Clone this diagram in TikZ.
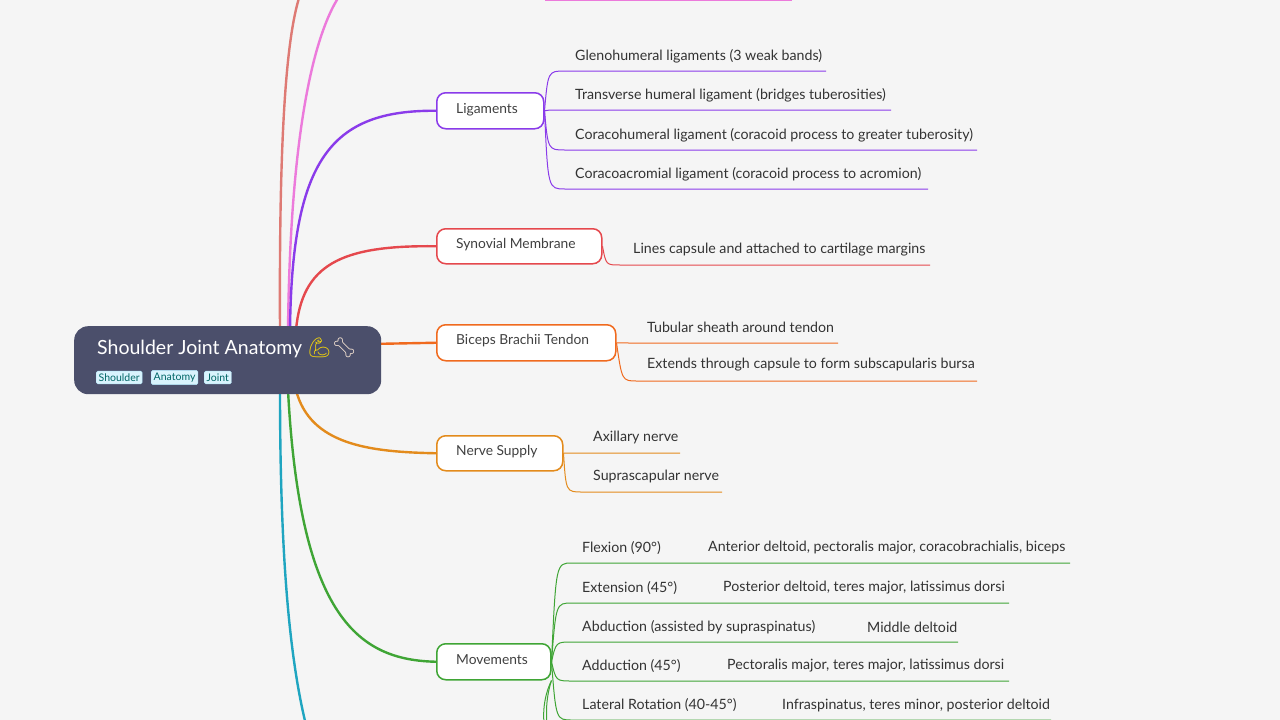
\documentclass[tikz,border=0pt]{standalone}
\usepackage{fontspec}
\setmainfont{Lato}
\newfontfamily\emo{Noto Emoji}
\definecolor{cpur}{HTML}{8A3BEA}\definecolor{cred}{HTML}{E5484D}
\definecolor{cora}{HTML}{F06A1E}\definecolor{cyel}{HTML}{E38B1C}
\definecolor{cgrn}{HTML}{3FA535}\definecolor{csal}{HTML}{DE7A74}
\definecolor{cpink}{HTML}{EC7ADB}\definecolor{cteal}{HTML}{1FA5C0}
\definecolor{croot}{HTML}{4B4F6B}
\begin{document}
\begin{tikzpicture}[x=1pt,y=-1pt,
  box/.style={draw=#1,line width=1.5pt,rounded corners=9pt,fill=white,inner sep=0pt,anchor=north west,text width=#1,font=\fontsize{13.5}{13.5}\selectfont,text=black!75},
  box/.style={draw=#1,line width=1.5pt,rounded corners=9pt,fill=white,inner sep=0pt,anchor=north west},
  blbl/.style={anchor=west,inner sep=0pt,font=\fontsize{13.8}{14}\selectfont,text=black!75},
  lbl/.style={anchor=west,inner sep=0pt,font=\fontsize{14.2}{14}\selectfont,text=black!80},
  tag/.style={fill=cyan!15,draw=cyan!30,rounded corners=1.5pt,inner xsep=2.5pt,inner ysep=2.5pt,font=\fontsize{10.5}{10.5}\selectfont,text=teal!80!black,anchor=west},
  br/.style={line width=2.4pt,line cap=round},
  ch/.style={line width=1pt}]
\useasboundingbox[fill=black!4] (0,0) rectangle (1280,720);
\clip (0,0) rectangle (1280,720);
% stems off-page
\draw[br,csal] (280,330) .. controls (279,150) and (285,40) .. (300,-5);
\draw[br,cpink] (288,330) .. controls (290,150) and (310,40) .. (340,-5);
\draw[ch,cpink] (545,0) -- (792,0);
\draw[br,cteal] (280,390) .. controls (280,560) and (290,660) .. (306,725);
% nodes
\node[box=cpur,minimum width=107pt,minimum height=36pt] (lig) at (436,92) {};
\node[box=cred,minimum width=165pt,minimum height=35pt] (syn) at (436,228) {};
\node[box=cora,minimum width=179pt,minimum height=36pt] (bic) at (436,324) {};
\node[box=cyel,minimum width=126pt,minimum height=35pt] (ner) at (436,435) {};
\node[box=cgrn,minimum width=114pt,minimum height=36pt] (mov) at (436,643) {};
\node[blbl] (ligt) at (456,110) {Ligaments};
\node[blbl] (synt) at (456,245) {Synovial Membrane};
\node[blbl] (bict) at (456,341) {Biceps Brachii Tendon};
\node[blbl] (nert) at (456,452) {Nerve Supply};
\node[blbl] (movt) at (456,660) {Movements};
% branches
\draw[br,cpur] (290,330) .. controls (292,160) and (330,110) .. (lig.west);
\draw[br,cred] (296,330) .. controls (302,265) and (340,245) .. (syn.west);
\draw[br,cora] (370,344) -- (bic.west);
\draw[br,cyel] (296,390) .. controls (310,445) and (370,452) .. (ner.west);
\draw[br,cgrn] (288,390) .. controls (300,620) and (360,660) .. (mov.west);
% root
\node[fill=croot,rounded corners=14pt,minimum width=307pt,minimum height=68pt,anchor=north west,inner sep=0pt] (root) at (74,326) {};
\node[anchor=west,text=white,inner sep=0pt,font=\fontsize{19.5}{19}\selectfont] (title) at (97,348) {Shoulder Joint Anatomy {\emo\textcolor{yellow!80!orange}{💪}\textcolor{orange!15}{🦴}}};
\node[tag] (t1) at (96,377.5) {Shoulder};
\node[tag] (t2) at (151,377.5) {Anatomy};
\node[tag] (t3) at (204,377.5) {Joint};
% ligament children
\foreach \y/\e/\t in {71/826/Glenohumeral ligaments (3 weak bands),110/891/Transverse humeral ligament (bridges tuberosities),150/977/Coracohumeral ligament (coracoid process to greater tuberosity),189/928/Coracoacromial ligament (coracoid process to acromion)}{
  \draw[ch,cpur] (lig.east) .. controls (548,\y) and (548,\y) .. (565,\y) -- (\e,\y);
  \node[lbl] at (575,\y-15) {\t};}
\draw[ch,cred] (syn.east) .. controls (606,265) and (606,265) .. (620,265) -- (930,265);
\node[lbl] (s1) at (633,250) {Lines capsule and attached to cartilage margins};
\foreach \y/\e/\t in {343/838/Tubular sheath around tendon,381/977/Extends through capsule to form subscapularis bursa}{
  \draw[ch,cora] (bic.east) .. controls (622,\y) and (622,\y) .. (637,\y) -- (\e,\y);
  \node[lbl] at (647,\y-16) {\t};}
\foreach \y/\e/\t in {453/680/Axillary nerve,492/722/Suprascapular nerve}{
  \draw[ch,cyel] (ner.east) .. controls (566,\y) and (566,\y) .. (582,\y) -- (\e,\y);
  \node[lbl] at (593,\y-16) {\t};}
\foreach \y/\e/\a/\x/\b in {563/1070/Flexion (90°)/708/{Anterior deltoid, pectoralis major, coracobrachialis, biceps},603/1009/Extension (45°)/723/{Posterior deltoid, teres major, latissimus dorsi},642/958/Abduction (assisted by supraspinatus)/867/Middle deltoid,681/1009/Adduction (45°)/727/{Pectoralis major, teres major, latissimus dorsi},720/1051/Lateral Rotation (40-45°)/782/{Infraspinatus, teres minor, posterior deltoid}}{
  \draw[ch,cgrn] (mov.east) .. controls (556,\y) and (556,\y) .. (572,\y) -- (\e,\y);
  \node[lbl] at (582,\y-15) {\a};
  \node[lbl] at (\x,\y-15) {\b};}
\draw[ch,cgrn] (mov.south east) .. controls (545,700) and (546,720) .. (548,730);
\draw[ch,cgrn] (mov.south east) .. controls (542,700) and (543,720) .. (545,730);
\end{tikzpicture}
\end{document}
